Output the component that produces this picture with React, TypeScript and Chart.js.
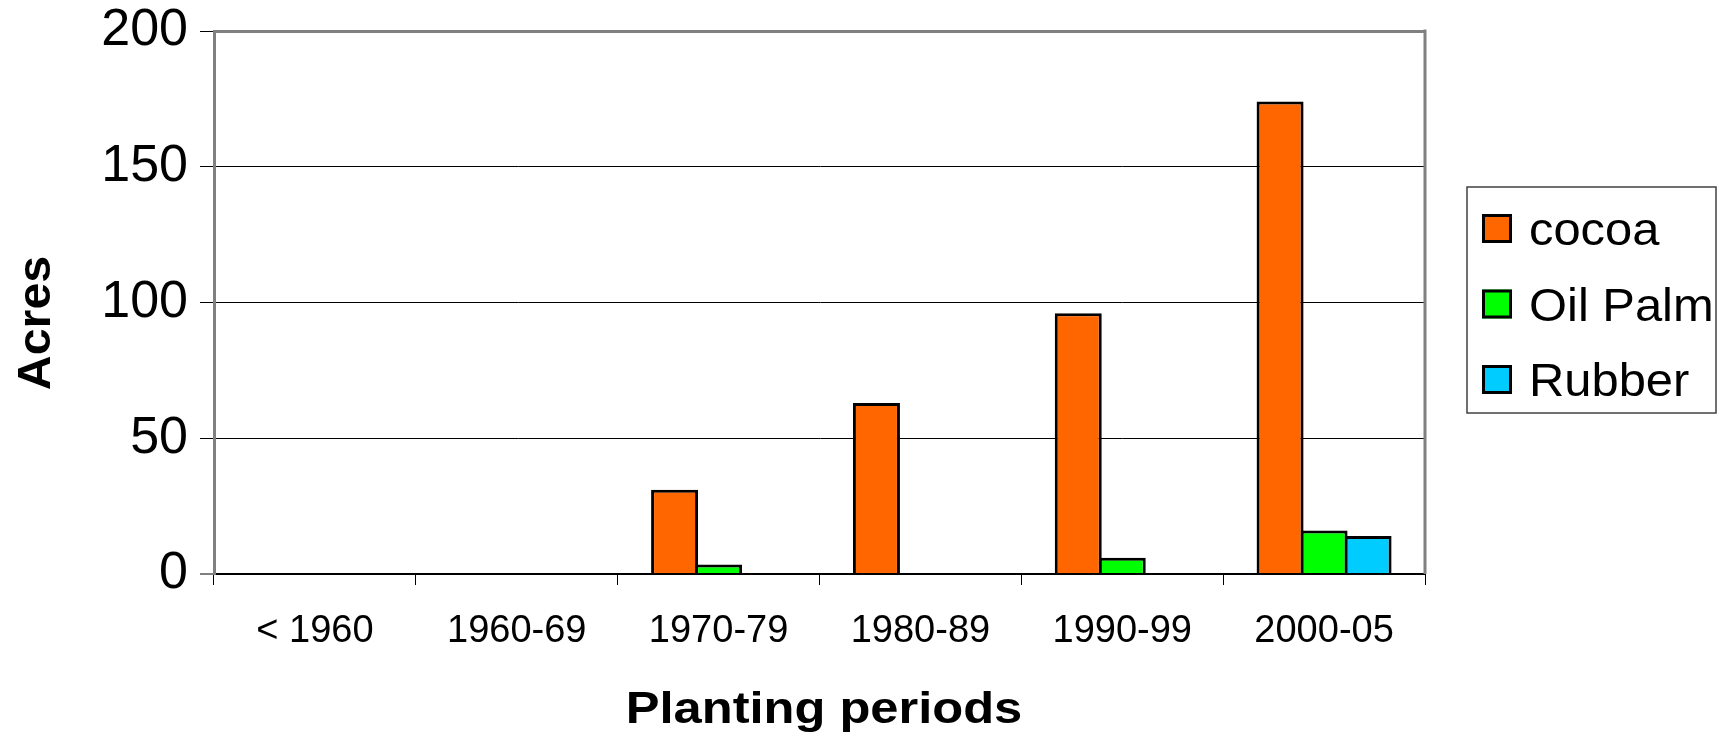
import React, { useEffect, useRef } from "react";
import { Chart, registerables } from "chart.js";

Chart.register(...registerables);

const categories = ["< 1960", "1960-69", "1970-79", "1980-89", "1990-99", "2000-05"];
const cocoa = [0, 0, 31, 63, 96, 174];
const oilPalm = [0, 0, 3.5, 0, 6, 16];
const rubber = [0, 0, 0, 0, 0, 14];
const seriesNames = ["cocoa", "Oil Palm", "Rubber"];
const seriesColors = ["#FF6600", "#00FF00", "#00CCFF"];
const yMin = 0;
const yMax = 200;
const yStep = 50;
const xTitle = "Planting periods";
const yTitle = "Acres";

const FONT = "'Liberation Sans', Arial, sans-serif";

function stretchedText(ctx: CanvasRenderingContext2D, text: string, x: number, y: number, sx: number, rot: number) {
  ctx.save();
  ctx.translate(x, y);
  if (rot) ctx.rotate(rot);
  ctx.scale(sx, 1);
  ctx.fillText(text, 0, 0);
  ctx.restore();
}

const decorPlugin = {
  id: "decor",
  afterDraw(chart: any) {
    const { ctx, chartArea } = chart;
    ctx.save();
    // right frame line
    ctx.strokeStyle = "#808080";
    ctx.lineWidth = 3;
    ctx.beginPath();
    ctx.moveTo(chartArea.right, chartArea.top - 1.5);
    ctx.lineTo(chartArea.right, chartArea.bottom);
    ctx.stroke();

    // axis titles
    ctx.fillStyle = "#000";
    ctx.font = `bold 46px ${FONT}`;
    ctx.textAlign = "center";
    ctx.textBaseline = "alphabetic";
    stretchedText(ctx, yTitle, 50, 323, 1.05, -Math.PI / 2);
    ctx.font = `bold 44px ${FONT}`;
    stretchedText(ctx, xTitle, 824, 723, 1.15, 0);

    // legend
    const lx = 1467, ly = 187, lw = 249, lh = 226;
    ctx.strokeStyle = "#404040";
    ctx.lineWidth = 1.5;
    ctx.strokeRect(lx, ly, lw, lh);
    ctx.font = `47px ${FONT}`;
    ctx.textAlign = "left";
    chart.data.datasets.forEach((ds: any, i: number) => {
      const base = 244 + i * 75.5;
      const sx = 1482, sy = base - 30, sw = 30, sh = 29;
      ctx.fillStyle = ds.backgroundColor;
      ctx.fillRect(sx, sy, sw, sh);
      ctx.strokeStyle = "#000";
      ctx.lineWidth = 3;
      ctx.strokeRect(sx + 1.5, sy + 1.5, sw - 3, sh - 3);
      ctx.fillStyle = "#000";
      stretchedText(ctx, ds.label, 1529, base + 1, 1.04, 0);
    });
    ctx.restore();
  },
};

export default function App() {
  const ref = useRef<HTMLCanvasElement | null>(null);
  useEffect(() => {
    if (!ref.current) return;
    Chart.defaults.font.family = FONT;
    const seriesData = [cocoa, oilPalm, rubber];
    const chart = new Chart(ref.current, {
      type: "bar",
      data: {
        labels: categories,
        datasets: seriesNames.map((name, i) => ({
          label: name,
          data: seriesData[i],
          backgroundColor: seriesColors[i],
          borderColor: "#000000",
          borderWidth: 3,
          categoryPercentage: 0.654,
          barPercentage: 1.068,
        })),
      },
      options: {
        responsive: false,
        devicePixelRatio: 1,
        animation: false,
        layout: { padding: { left: 0, top: 31, right: 294, bottom: 0 } },
        plugins: {
          legend: { display: false },
          tooltip: { enabled: false },
          title: { display: false },
        },
        scales: {
          x: {
            grid: {
              display: true,
              drawOnChartArea: false,
              drawTicks: true,
              tickLength: 11,
              tickColor: "#000",
              tickWidth: 1,
              offset: true,
            },
            border: { display: true, color: "#000", width: 2 },
            ticks: {
              color: "#000",
              font: { size: 38, lineHeight: 1.2 },
              padding: 24,
              maxRotation: 0,
              minRotation: 0,
              autoSkip: false,
            },
            afterFit: (s: any) => {
              s.height = 159;
            },
          },
          y: {
            min: yMin,
            max: yMax,
            grid: {
              color: (c: any) => (c.tick && c.tick.value === yMax ? "#808080" : "#000"),
              lineWidth: (c: any) => (c.tick && c.tick.value === yMax ? 3 : c.tick && c.tick.value === 0 ? 2 : 1),
              tickColor: "#000",
              tickWidth: 1,
              tickLength: 14,
              drawTicks: true,
            },
            border: { display: true, color: "#808080", width: 3 },
            ticks: {
              stepSize: yStep,
              color: "#000",
              font: { size: 52, lineHeight: 0.5 },
              padding: 12,
            },
            afterFit: (s: any) => {
              s.width = 214;
            },
          },
        },
      },
      plugins: [decorPlugin],
    });
    return () => chart.destroy();
  }, []);
  return (
    <div style={{ position: "absolute", left: 0, top: 0, width: 1719, height: 733, background: "#fff" }}>
      <canvas ref={ref} width={1719} height={733} style={{ display: "block", width: 1719, height: 733 }} />
    </div>
  );
}
